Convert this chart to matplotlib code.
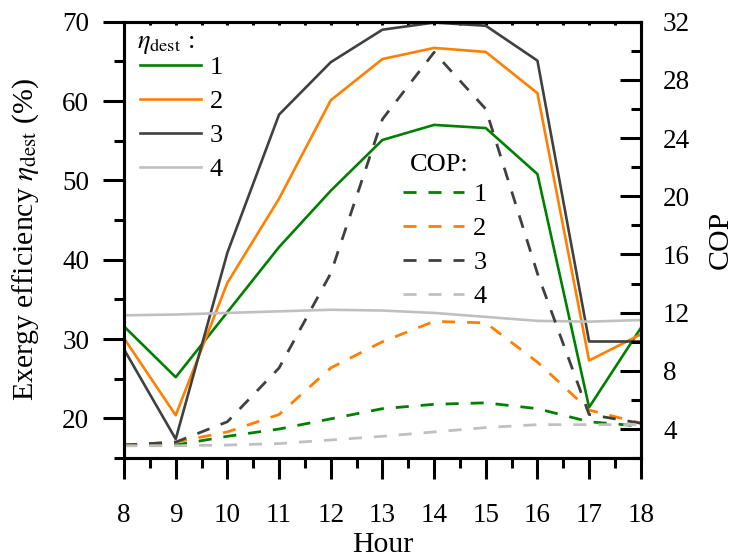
import numpy as np
import matplotlib.pyplot as plt
from matplotlib.ticker import MultipleLocator

plt.rcParams['font.family'] = ['Liberation Serif', 'DejaVu Serif']
plt.rcParams['mathtext.fontset'] = 'stix'

### hourly data
hours = [8, 9, 10, 11, 12, 13, 14, 15, 16, 17, 18]

# exergy efficiency (%)
eta1 = [31.6, 25.2, 33.4, 41.6, 48.7, 55.1, 57.0, 56.6, 50.8, 21.4, 31.4]
eta2 = [30.1, 20.4, 37.1, 47.7, 60.1, 65.3, 66.7, 66.2, 61.0, 27.3, 30.6]
eta3 = [28.7, 17.4, 40.9, 58.3, 64.9, 69.0, 69.9, 69.5, 65.1, 29.7, 29.7]
eta4 = [33.0, 33.1, 33.3, 33.5, 33.7, 33.6, 33.3, 32.8, 32.3, 32.2, 32.4]

# coefficient of performance
cop1 = [2.9, 2.9, 3.5, 4.0, 4.7, 5.4, 5.7, 5.8, 5.4, 4.5, 4.2]
cop2 = [2.9, 3.1, 3.8, 5.0, 8.2, 10.0, 11.4, 11.3, 8.6, 5.3, 4.4]
cop3 = [2.9, 3.1, 4.5, 8.2, 14.7, 25.3, 29.9, 26.0, 14.7, 5.0, 4.4]
cop4 = [2.85, 2.85, 2.9, 3.0, 3.25, 3.5, 3.8, 4.1, 4.3, 4.3, 4.3]

labels = ['1', '2', '3', '4']
colors = ['#008000', '#ff8000', '#404040', '#c0c0c0']

fig = plt.figure(figsize=(7.34, 5.58), dpi=100)
ax = fig.add_axes([0.169, 0.179, 0.704, 0.782])
ax2 = ax.twinx()

solid = []
for y, c, lab in zip([eta1, eta2, eta3, eta4], colors, labels):
    ln, = ax.plot(hours, y, color=c, lw=1.9, label=lab)
    solid.append(ln)

dashed = []
for y, c, lab in zip([cop1, cop2, cop3, cop4], colors, labels):
    ln, = ax2.plot(hours, y, color=c, lw=2.0, dashes=(4.7, 4.3), label=lab)
    dashed.append(ln)

ax.set_xlim(8, 18)
ax.set_ylim(15, 70)
ax2.set_ylim(2, 32)

ax.xaxis.set_major_locator(MultipleLocator(1))
ax.xaxis.set_minor_locator(MultipleLocator(0.5))
ax.yaxis.set_major_locator(MultipleLocator(10))
ax.yaxis.set_minor_locator(MultipleLocator(5))
ax2.yaxis.set_major_locator(MultipleLocator(4))
ax2.yaxis.set_minor_locator(MultipleLocator(2))

for a in (ax, ax2):
    for s in a.spines.values():
        s.set_linewidth(2.2)

ax.tick_params(axis='x', which='major', direction='out', length=15, width=2.2,
               labelsize=19.5, pad=17, top=True)
ax.tick_params(axis='x', which='minor', direction='out', length=7.5, width=2.2, top=True)
ax.tick_params(axis='x', which='both', labeltop=False)
ax.tick_params(axis='y', which='major', direction='out', length=15, width=2.2,
               labelsize=19.5, pad=10)
ax.tick_params(axis='y', which='minor', direction='out', length=7.5, width=2.2)
ax2.tick_params(axis='y', which='major', direction='in', length=15, width=2.2,
                labelsize=19.5, pad=16)
ax2.tick_params(axis='y', which='minor', direction='in', length=7.5, width=2.2)
# the top ticks sit inside as little marks
for t in ax.xaxis.get_major_ticks() + ax.xaxis.get_minor_ticks():
    t.tick2line.set_markersize(2)
    t.tick2line.set_marker(3)

ax.set_xlabel('Hour', fontsize=21.5, labelpad=3)
ax.set_ylabel(r'Exergy efficiency $\eta_{\rm dest}$ (%)', fontsize=21.5, labelpad=15)
ax2.set_ylabel('COP', fontsize=21.5, labelpad=13)

### legends: titles as plain text so the rows can be spaced on their own
leg_kw = dict(loc='upper left', frameon=False, fontsize=19, handlelength=2.3,
              handletextpad=0.35, labelspacing=0.4, borderaxespad=0.2)
leg1 = ax2.legend(handles=solid, bbox_to_anchor=(0.0, 0.958), **leg_kw)
ax2.add_artist(leg1)
ax2.legend(handles=dashed, bbox_to_anchor=(0.51, 0.667), **leg_kw)

ax2.text(0.025, 0.947, r'$\eta_{\rm dest}$ :', transform=ax2.transAxes,
         fontsize=19, va='center', ha='left')
ax2.text(0.553, 0.672, 'COP:', transform=ax2.transAxes,
         fontsize=19, va='center', ha='left')

fig.savefig('out.png', dpi=100)
